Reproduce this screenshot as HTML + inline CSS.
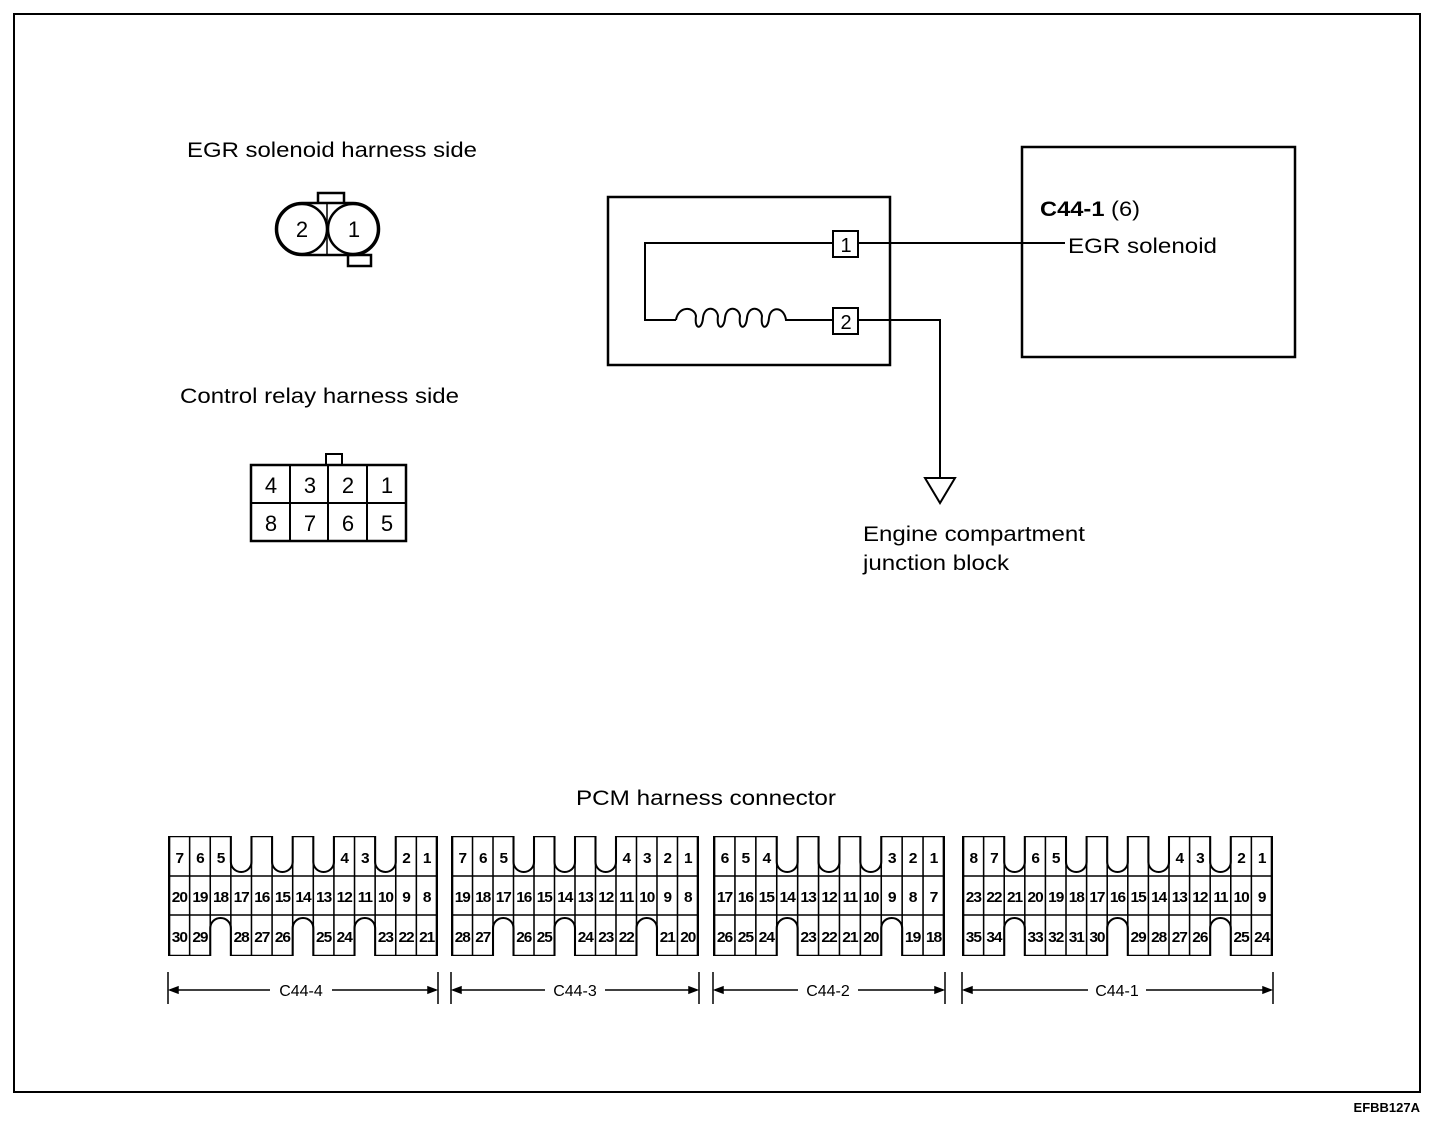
<!DOCTYPE html>
<html><head><meta charset="utf-8"><style>
html,body{margin:0;padding:0;background:#fff}
svg{position:absolute;left:0;top:0}
text{font-family:"Liberation Sans",Arial,sans-serif;fill:#000}
.c text{font-weight:bold;font-size:15px;text-anchor:middle;letter-spacing:-1px}
</style></head><body>
<svg width="1456" height="1122" viewBox="0 0 1456 1122" stroke="#000" fill="none">
<rect x="14" y="14" width="1406" height="1078" stroke-width="2"/>
<text x="1420" y="1112" stroke="none" font-size="13" text-anchor="end" font-weight="bold">EFBB127A</text>

<g stroke="none" font-size="21" lengthAdjust="spacingAndGlyphs">
<text x="187" y="157" textLength="290" lengthAdjust="spacingAndGlyphs">EGR solenoid harness side</text>
<text x="180" y="403" textLength="279" lengthAdjust="spacingAndGlyphs">Control relay harness side</text>
<text x="576" y="805" textLength="260" lengthAdjust="spacingAndGlyphs">PCM harness connector</text>
<text x="863" y="541" textLength="222" lengthAdjust="spacingAndGlyphs">Engine compartment</text>
<text x="863" y="570" textLength="146" lengthAdjust="spacingAndGlyphs">junction block</text>
<text x="1040" y="216" textLength="100" lengthAdjust="spacingAndGlyphs"><tspan font-weight="bold">C44-1</tspan> (6)</text>
<text x="1068" y="253" textLength="149" lengthAdjust="spacingAndGlyphs">EGR solenoid</text>
</g>

<!-- EGR connector -->
<g stroke-width="2.5">
<rect x="318" y="193" width="26" height="12" fill="#fff"/>
<rect x="348" y="255" width="23" height="11" fill="#fff"/>
<path d="M302 203 H353 A26 26 0 0 1 353 255 H302 A26 26 0 0 1 302 203 Z" fill="#fff"/>
<circle cx="302" cy="229" r="25"/>
<circle cx="353" cy="229" r="25"/>
<line x1="327" y1="203" x2="327" y2="255" stroke-width="1.5"/>
</g>
<g stroke="none" font-size="22" text-anchor="middle">
<text x="302" y="237">2</text><text x="354" y="237">1</text>
</g>

<!-- Relay connector -->
<rect x="326" y="454" width="16" height="11" stroke-width="2"/>
<rect x="251" y="465" width="155" height="76" stroke-width="2.5" fill="#fff"/>
<path d="M251 503 H406 M290 465 V541 M328 465 V541 M367 465 V541" stroke-width="2"/>
<g stroke="none" font-size="22" text-anchor="middle">
<text x="271" y="493">4</text><text x="310" y="493">3</text><text x="348" y="493">2</text><text x="387" y="493">1</text>
<text x="271" y="531">8</text><text x="310" y="531">7</text><text x="348" y="531">6</text><text x="387" y="531">5</text>
</g>

<!-- Relay box -->
<rect x="608" y="197" width="282" height="168" stroke-width="2.5"/>
<rect x="833" y="231" width="25" height="26" stroke-width="2"/>
<rect x="833" y="308" width="25" height="26" stroke-width="2"/>
<g stroke="none" font-size="20" text-anchor="middle">
<text x="846" y="252">1</text><text x="846" y="329">2</text>
</g>
<path d="M833 243 H645 V320 H676" stroke-width="2"/>
<path d="M676 320 C678 306 694 306 696 316 C694 330 702 330 703 318 C704 306 716 306 718 316 C716 330 724 330 725 318 C726 306 738 306 740 316 C738 330 746 330 747 318 C748 306 760 306 762 316 C760 330 768 330 769 318 C770 306 784 306 786 320 H833" stroke-width="2"/>
<path d="M858 243 H1065" stroke-width="2"/>
<path d="M858 320 H940 V478" stroke-width="2"/>
<path d="M925 478 H955 L940 503 Z" stroke-width="2"/>
<rect x="1022" y="147" width="273" height="210" stroke-width="2.5"/>

<!-- dimension lines -->
<g stroke-width="1.5">
<path d="M168 972 V1004 M438 972 V1004 M170 990 H270 M332 990 H436"/>
<path d="M451 972 V1004 M699 972 V1004 M453 990 H545 M605 990 H697"/>
<path d="M713 972 V1004 M945 972 V1004 M715 990 H798 M858 990 H943"/>
<path d="M962 972 V1004 M1273 972 V1004 M964 990 H1088 M1146 990 H1271"/>
<path d="M170 990 l8 -3 v6 z M436 990 l-8 -3 v6 z M453 990 l8 -3 v6 z M697 990 l-8 -3 v6 z M715 990 l8 -3 v6 z M943 990 l-8 -3 v6 z M964 990 l8 -3 v6 z M1271 990 l-8 -3 v6 z" fill="#000"/>
</g>
<g stroke="none" font-size="16" text-anchor="middle">
<text x="301" y="996">C44-4</text><text x="575" y="996">C44-3</text><text x="828" y="996">C44-2</text><text x="1117" y="996">C44-1</text>
</g>
</svg>

<!-- C44-4: 13 cols -->
<svg class="c" style="left:168px;top:836px" width="270" height="120" viewBox="-1 0 262 120" preserveAspectRatio="none" stroke="#000" fill="none">
<rect x="0" y="0" width="260" height="120" stroke-width="2.5"/>
<path d="M0 40 H260 M0 79 H260 M20 0V120 M40 0V120 M60 0V120 M80 0V120 M100 0V120 M120 0V120 M140 0V120 M160 0V120 M180 0V120 M200 0V120 M220 0V120 M240 0V120" stroke-width="1.5"/>
<g stroke-width="2">
<path d="M60 -2V26A10 10 0 0 0 80 26V-2Z M100 -2V26A10 10 0 0 0 120 26V-2Z M140 -2V26A10 10 0 0 0 160 26V-2Z M200 -2V26A10 10 0 0 0 220 26V-2Z" fill="#fff" stroke="none"/>
<path d="M60 0V26A10 10 0 0 0 80 26V0 M100 0V26A10 10 0 0 0 120 26V0 M140 0V26A10 10 0 0 0 160 26V0 M200 0V26A10 10 0 0 0 220 26V0"/>
<path d="M40 122V92A10 10 0 0 1 60 92V122Z M120 122V92A10 10 0 0 1 140 92V122Z M180 122V92A10 10 0 0 1 200 92V122Z" fill="#fff" stroke="none"/>
<path d="M40 120V92A10 10 0 0 1 60 92V120 M120 120V92A10 10 0 0 1 140 92V120 M180 120V92A10 10 0 0 1 200 92V120"/>
</g>
<g stroke="none">
<text x="10" y="27">7</text><text x="30" y="27">6</text><text x="50" y="27">5</text><text x="170" y="27">4</text><text x="190" y="27">3</text><text x="230" y="27">2</text><text x="250" y="27">1</text>
<text x="10" y="66">20</text><text x="30" y="66">19</text><text x="50" y="66">18</text><text x="70" y="66">17</text><text x="90" y="66">16</text><text x="110" y="66">15</text><text x="130" y="66">14</text><text x="150" y="66">13</text><text x="170" y="66">12</text><text x="190" y="66">11</text><text x="210" y="66">10</text><text x="230" y="66">9</text><text x="250" y="66">8</text>
<text x="10" y="106">30</text><text x="30" y="106">29</text><text x="70" y="106">28</text><text x="90" y="106">27</text><text x="110" y="106">26</text><text x="150" y="106">25</text><text x="170" y="106">24</text><text x="210" y="106">23</text><text x="230" y="106">22</text><text x="250" y="106">21</text>
</g>
</svg>

<!-- C44-3: 12 cols -->
<svg class="c" style="left:451px;top:836px" width="248" height="120" viewBox="-1 0 242 120" preserveAspectRatio="none" stroke="#000" fill="none">
<rect x="0" y="0" width="240" height="120" stroke-width="2.5"/>
<path d="M0 40 H240 M0 79 H240 M20 0V120 M40 0V120 M60 0V120 M80 0V120 M100 0V120 M120 0V120 M140 0V120 M160 0V120 M180 0V120 M200 0V120 M220 0V120" stroke-width="1.5"/>
<g stroke-width="2">
<path d="M60 -2V26A10 10 0 0 0 80 26V-2Z M100 -2V26A10 10 0 0 0 120 26V-2Z M140 -2V26A10 10 0 0 0 160 26V-2Z" fill="#fff" stroke="none"/>
<path d="M60 0V26A10 10 0 0 0 80 26V0 M100 0V26A10 10 0 0 0 120 26V0 M140 0V26A10 10 0 0 0 160 26V0"/>
<path d="M40 122V92A10 10 0 0 1 60 92V122Z M100 122V92A10 10 0 0 1 120 92V122Z M180 122V92A10 10 0 0 1 200 92V122Z" fill="#fff" stroke="none"/>
<path d="M40 120V92A10 10 0 0 1 60 92V120 M100 120V92A10 10 0 0 1 120 92V120 M180 120V92A10 10 0 0 1 200 92V120"/>
</g>
<g stroke="none">
<text x="10" y="27">7</text><text x="30" y="27">6</text><text x="50" y="27">5</text><text x="170" y="27">4</text><text x="190" y="27">3</text><text x="210" y="27">2</text><text x="230" y="27">1</text>
<text x="10" y="66">19</text><text x="30" y="66">18</text><text x="50" y="66">17</text><text x="70" y="66">16</text><text x="90" y="66">15</text><text x="110" y="66">14</text><text x="130" y="66">13</text><text x="150" y="66">12</text><text x="170" y="66">11</text><text x="190" y="66">10</text><text x="210" y="66">9</text><text x="230" y="66">8</text>
<text x="10" y="106">28</text><text x="30" y="106">27</text><text x="70" y="106">26</text><text x="90" y="106">25</text><text x="130" y="106">24</text><text x="150" y="106">23</text><text x="170" y="106">22</text><text x="210" y="106">21</text><text x="230" y="106">20</text>
</g>
</svg>

<!-- C44-2: 11 cols -->
<svg class="c" style="left:713px;top:836px" width="232" height="120" viewBox="-1 0 222 120" preserveAspectRatio="none" stroke="#000" fill="none">
<rect x="0" y="0" width="220" height="120" stroke-width="2.5"/>
<path d="M0 40 H220 M0 79 H220 M20 0V120 M40 0V120 M60 0V120 M80 0V120 M100 0V120 M120 0V120 M140 0V120 M160 0V120 M180 0V120 M200 0V120" stroke-width="1.5"/>
<g stroke-width="2">
<path d="M60 -2V26A10 10 0 0 0 80 26V-2Z M100 -2V26A10 10 0 0 0 120 26V-2Z M140 -2V26A10 10 0 0 0 160 26V-2Z" fill="#fff" stroke="none"/>
<path d="M60 0V26A10 10 0 0 0 80 26V0 M100 0V26A10 10 0 0 0 120 26V0 M140 0V26A10 10 0 0 0 160 26V0"/>
<path d="M60 122V92A10 10 0 0 1 80 92V122Z M160 122V92A10 10 0 0 1 180 92V122Z" fill="#fff" stroke="none"/>
<path d="M60 120V92A10 10 0 0 1 80 92V120 M160 120V92A10 10 0 0 1 180 92V120"/>
</g>
<g stroke="none">
<text x="10" y="27">6</text><text x="30" y="27">5</text><text x="50" y="27">4</text><text x="170" y="27">3</text><text x="190" y="27">2</text><text x="210" y="27">1</text>
<text x="10" y="66">17</text><text x="30" y="66">16</text><text x="50" y="66">15</text><text x="70" y="66">14</text><text x="90" y="66">13</text><text x="110" y="66">12</text><text x="130" y="66">11</text><text x="150" y="66">10</text><text x="170" y="66">9</text><text x="190" y="66">8</text><text x="210" y="66">7</text>
<text x="10" y="106">26</text><text x="30" y="106">25</text><text x="50" y="106">24</text><text x="90" y="106">23</text><text x="110" y="106">22</text><text x="130" y="106">21</text><text x="150" y="106">20</text><text x="190" y="106">19</text><text x="210" y="106">18</text>
</g>
</svg>

<!-- C44-1: 15 cols -->
<svg class="c" style="left:962px;top:836px" width="311" height="120" viewBox="-1 0 302 120" preserveAspectRatio="none" stroke="#000" fill="none">
<rect x="0" y="0" width="300" height="120" stroke-width="2.5"/>
<path d="M0 40 H300 M0 79 H300 M20 0V120 M40 0V120 M60 0V120 M80 0V120 M100 0V120 M120 0V120 M140 0V120 M160 0V120 M180 0V120 M200 0V120 M220 0V120 M240 0V120 M260 0V120 M280 0V120" stroke-width="1.5"/>
<g stroke-width="2">
<path d="M40 -2V26A10 10 0 0 0 60 26V-2Z M100 -2V26A10 10 0 0 0 120 26V-2Z M140 -2V26A10 10 0 0 0 160 26V-2Z M180 -2V26A10 10 0 0 0 200 26V-2Z M240 -2V26A10 10 0 0 0 260 26V-2Z" fill="#fff" stroke="none"/>
<path d="M40 0V26A10 10 0 0 0 60 26V0 M100 0V26A10 10 0 0 0 120 26V0 M140 0V26A10 10 0 0 0 160 26V0 M180 0V26A10 10 0 0 0 200 26V0 M240 0V26A10 10 0 0 0 260 26V0"/>
<path d="M40 122V92A10 10 0 0 1 60 92V122Z M140 122V92A10 10 0 0 1 160 92V122Z M240 122V92A10 10 0 0 1 260 92V122Z" fill="#fff" stroke="none"/>
<path d="M40 120V92A10 10 0 0 1 60 92V120 M140 120V92A10 10 0 0 1 160 92V120 M240 120V92A10 10 0 0 1 260 92V120"/>
</g>
<g stroke="none">
<text x="10" y="27">8</text><text x="30" y="27">7</text><text x="70" y="27">6</text><text x="90" y="27">5</text><text x="210" y="27">4</text><text x="230" y="27">3</text><text x="270" y="27">2</text><text x="290" y="27">1</text>
<text x="10" y="66">23</text><text x="30" y="66">22</text><text x="50" y="66">21</text><text x="70" y="66">20</text><text x="90" y="66">19</text><text x="110" y="66">18</text><text x="130" y="66">17</text><text x="150" y="66">16</text><text x="170" y="66">15</text><text x="190" y="66">14</text><text x="210" y="66">13</text><text x="230" y="66">12</text><text x="250" y="66">11</text><text x="270" y="66">10</text><text x="290" y="66">9</text>
<text x="10" y="106">35</text><text x="30" y="106">34</text><text x="70" y="106">33</text><text x="90" y="106">32</text><text x="110" y="106">31</text><text x="130" y="106">30</text><text x="170" y="106">29</text><text x="190" y="106">28</text><text x="210" y="106">27</text><text x="230" y="106">26</text><text x="270" y="106">25</text><text x="290" y="106">24</text>
</g>
</svg>
</body></html>
